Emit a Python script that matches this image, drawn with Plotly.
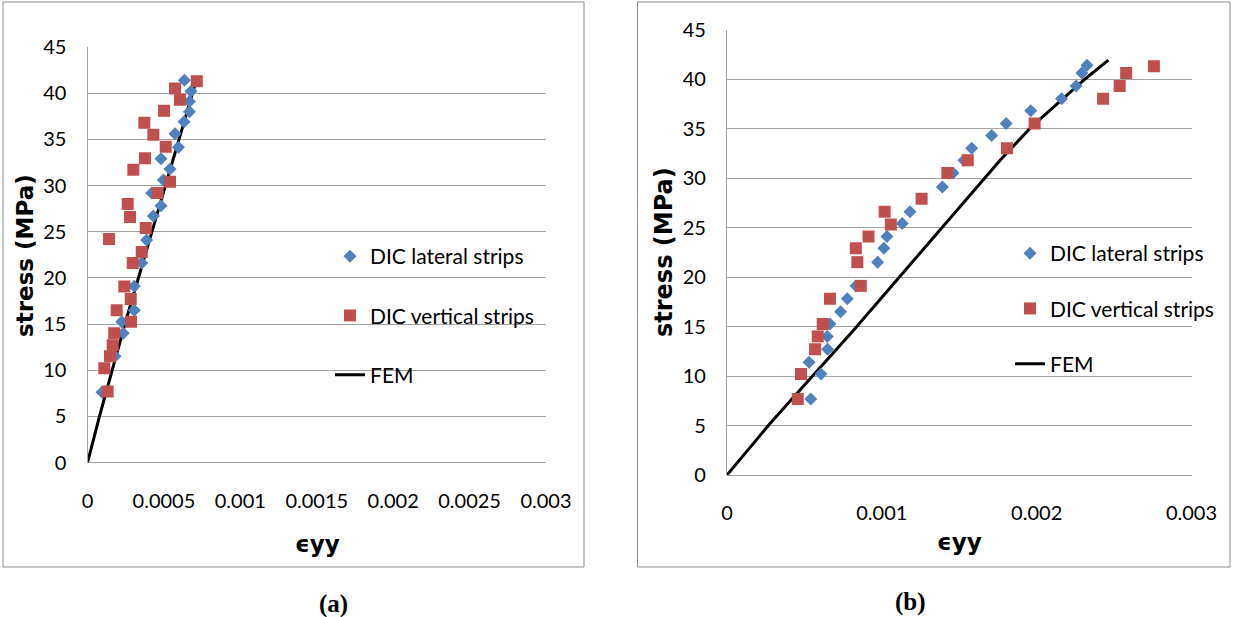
import plotly.graph_objects as go

W, H = 1233, 617

# ---- panel (a) ----
a_lat_strain = [0.000095, 0.00018, 0.000234, 0.000224, 0.000306, 0.000306, 0.000355, 0.000387,
                0.000431, 0.000481, 0.00042, 0.000496, 0.00054, 0.000481, 0.000595, 0.000573,
                0.000632, 0.000667, 0.000667, 0.000677, 0.000634]
a_lat_stress = [7.6, 11.5, 14.0, 15.25, 16.5, 19.1, 21.6, 24.1,
                26.7, 27.8, 29.2, 30.6, 31.8, 32.9, 34.15, 35.6,
                36.9, 38.0, 39.1, 40.2, 41.4]

a_ver_strain = [0.000132, 0.00011, 0.000147, 0.000165, 0.000175, 0.000191, 0.000241, 0.000283,
                0.000285, 0.000296, 0.000355, 0.000381, 0.000278, 0.000263, 0.000141, 0.000459,
                0.00054, 0.0003, 0.000376, 0.000512, 0.000431, 0.000372, 0.000501, 0.000605,
                0.000573, 0.000715]
a_ver_stress = [7.7, 10.2, 11.5, 12.7, 14.0, 16.5, 19.05, 17.7,
                15.25, 21.6, 22.8, 25.4, 26.6, 28.0, 24.2, 29.2,
                30.4, 31.7, 32.95, 34.2, 35.5, 36.8, 38.1, 39.3,
                40.5, 41.3]

a_fem_strain = [0, 0.00008, 0.000245, 0.000428, 0.000705]
a_fem_stress = [0, 5.1, 15.0, 25.3, 41.0]

a_xticks = [0, 0.0005, 0.001, 0.0015, 0.002, 0.0025, 0.003]
a_xtext = ["0", "0.0005", "0.001", "0.0015", "0.002", "0.0025", "0.003"]

# ---- panel (b) ----
b_lat_strain = [0.000541, 0.00053, 0.000607, 0.00065, 0.000648, 0.000665, 0.000734, 0.000777,
                0.000833, 0.000973, 0.001013, 0.001033, 0.001132, 0.001182, 0.001391, 0.00146,
                0.00153, 0.00158, 0.001709, 0.001803, 0.001962, 0.002161, 0.002255, 0.002292,
                0.002325]
b_lat_stress = [7.68, 11.4, 10.2, 12.7, 14.0, 15.25, 16.5, 17.8,
                19.1, 21.5, 22.9, 24.1, 25.4, 26.6, 29.1, 30.5,
                31.8, 33.0, 34.3, 35.5, 36.8, 38.0, 39.3, 40.6,
                41.4]

b_ver_strain = [0.000457, 0.000478, 0.000569, 0.000586, 0.000618, 0.000665, 0.000864, 0.000842,
                0.000832, 0.000914, 0.001058, 0.001018, 0.001257, 0.001423, 0.001555, 0.001808,
                0.001987, 0.002429, 0.002536, 0.002578, 0.002757]
b_ver_stress = [7.68, 10.2, 12.7, 14.0, 15.25, 17.8, 19.1, 21.5,
                22.9, 24.1, 25.3, 26.6, 27.9, 30.5, 31.8, 33.0,
                35.5, 38.0, 39.3, 40.6, 41.3]

b_fem_strain = [0, 0.000278, 0.000816, 0.001096, 0.001764, 0.001968, 0.002291, 0.002313, 0.002463]
b_fem_stress = [0, 5.2, 14.6, 19.7, 31.8, 35.2, 39.7, 40.0, 41.9]

b_xticks = [0, 0.001, 0.002, 0.003]
b_xtext = ["0", "0.001", "0.002", "0.003"]

stress_ticks = [0, 5, 10, 15, 20, 25, 30, 35, 40, 45]

BLUE = "#4f81bd"
RED = "#c0504d"
GRID = "#a3a3a3"
FONT = "Lato, sans-serif"
TITLE_FONT = "DejaVu Sans, sans-serif"


def fx(p):
    return p / W


def fy(p):
    return 1 - p / H


fig = go.Figure()

panels = [
    ("a", "x", "y", "legend", a_lat_strain, a_lat_stress, a_ver_strain, a_ver_stress,
     a_fem_strain, a_fem_stress),
    ("b", "x2", "y2", "legend2", b_lat_strain, b_lat_stress, b_ver_strain, b_ver_stress,
     b_fem_strain, b_fem_stress),
]

for tag, xa, ya, lg, ls, lst, vs, vst, fs, fst in panels:
    fig.add_trace(go.Scatter(
        x=fs, y=fst, mode="lines", name="FEM",
        line=dict(color="black", width=3),
        xaxis=xa, yaxis=ya, legend=lg, legendrank=3, legendgroup=tag + "3"))
    fig.add_trace(go.Scatter(
        x=ls, y=lst, mode="markers", name="DIC lateral strips",
        marker=dict(symbol="diamond", size=10, color=BLUE, line=dict(width=0)),
        xaxis=xa, yaxis=ya, legend=lg, legendrank=1, legendgroup=tag + "1"))
    fig.add_trace(go.Scatter(
        x=vs, y=vst, mode="markers", name="DIC vertical strips",
        marker=dict(symbol="square", size=12, color=RED, line=dict(width=0)),
        xaxis=xa, yaxis=ya, legend=lg, legendrank=2, legendgroup=tag + "2"))

tick_font = dict(family=FONT, size=20, color="black")

xcommon = dict(range=[0, 0.003], showgrid=False, zeroline=False, showline=False,
               ticks="outside", ticklen=20, tickcolor="rgba(0,0,0,0)",
               tickfont=tick_font, fixedrange=True)
ycommon = dict(range=[0, 45], tickvals=stress_ticks, showgrid=True, gridcolor=GRID,
               gridwidth=1.2, zeroline=True, zerolinecolor=GRID, zerolinewidth=1.2,
               showline=True, linecolor=GRID, linewidth=1.2,
               ticks="outside", ticklen=16, tickcolor="rgba(0,0,0,0)",
               tickfont=tick_font, fixedrange=True)

legend_common = dict(font=dict(family=FONT, size=21, color="black"),
                     bgcolor="rgba(0,0,0,0)", borderwidth=0,
                     traceorder="grouped", xanchor="left", yanchor="top",
                     xref="container", yref="container", itemclick=False)

fig.update_layout(
    width=W, height=H,
    margin=dict(l=0, r=0, t=0, b=0, autoexpand=False),
    paper_bgcolor="white", plot_bgcolor="white",
    xaxis=dict(domain=[fx(87.5), fx(546)], anchor="y", tickvals=a_xticks, ticktext=a_xtext, **xcommon),
    yaxis=dict(domain=[fy(462.5), fy(47)], anchor="x", **ycommon),
    xaxis2=dict(domain=[fx(727), fx(1191.5)], anchor="y2", tickvals=b_xticks, ticktext=b_xtext, **xcommon),
    yaxis2=dict(domain=[fy(475), fy(29.5)], anchor="x2", **ycommon),
    legend=dict(x=fx(330), y=fy(236), tracegroupgap=29, **legend_common),
    legend2=dict(x=fx(1010), y=fy(233), tracegroupgap=25, **legend_common),
    showlegend=True,
)

# chart frames
for x0, x1, y0, y1 in [(3, 584, 2, 567), (637.5, 1230, 2, 567)]:
    fig.add_shape(type="rect", xref="paper", yref="paper",
                  x0=fx(x0), x1=fx(x1), y0=fy(y1), y1=fy(y0),
                  line=dict(color="#8c8c8c", width=1), layer="below")

annotations = [
    dict(text="<b>stress (MPa)</b>", x=fx(25), y=fy(256), textangle=-90,
         font=dict(family=TITLE_FONT, size=23, color="black")),
    dict(text="<b>stress (MPa)</b>", x=fx(664), y=fy(252), textangle=-90,
         font=dict(family=TITLE_FONT, size=24, color="black")),
    dict(text="<b>\u03f5yy</b>", x=fx(317), y=fy(544), font=dict(family=TITLE_FONT, size=23, color="black")),
    dict(text="<b>\u03f5yy</b>", x=fx(959), y=fy(542), font=dict(family=TITLE_FONT, size=23, color="black")),
    dict(text="<b>(a)</b>", x=fx(333), y=fy(604),
         font=dict(family="Liberation Serif, serif", size=25, color="black")),
    dict(text="<b>(b)</b>", x=fx(910), y=fy(602),
         font=dict(family="Liberation Serif, serif", size=25, color="black")),
]
for a in annotations:
    a.update(xref="paper", yref="paper", showarrow=False, xanchor="center", yanchor="middle")
    fig.add_annotation(**a)

fig.write_html("out.html")
